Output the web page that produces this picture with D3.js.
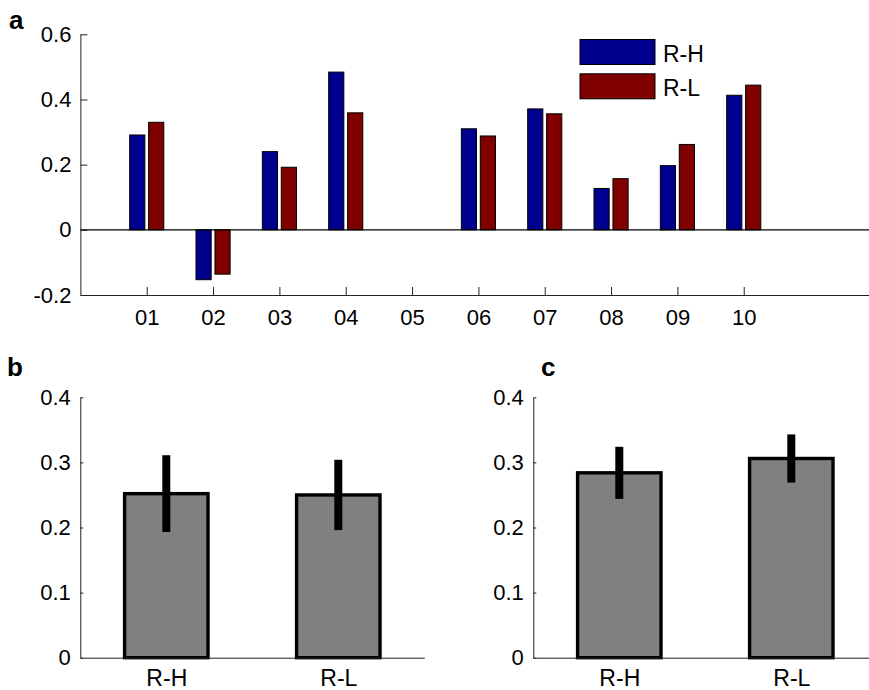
<!DOCTYPE html>
<html>
<head>
<meta charset="utf-8">
<script src="https://cdn.jsdelivr.net/npm/d3@7"></script>
<style>
  html, body { margin: 0; padding: 0; background: #fff; }
  svg { display: block; font-family: "Liberation Sans", Arial, sans-serif; }
</style>
</head>
<body>
<svg id="fig" width="869" height="690"></svg>
<script>
// Panel a: per-subject values for the two conditions
const subjects = ["01", "02", "03", "04", "05", "06", "07", "08", "09", "10"];
const seriesNames = ["R-H", "R-L"];
const valuesRH = [0.291, -0.153, 0.240, 0.484, null, 0.310, 0.371, 0.127, 0.197, 0.413];
const valuesRL = [0.330, -0.136, 0.192, 0.359, null, 0.288, 0.356, 0.157, 0.262, 0.444];
const yTicksA = [-0.2, 0, 0.2, 0.4, 0.6];

// Panels b and c: group means with error bars
const groupLabels = ["R-H", "R-L"];
const meansB = [0.252, 0.250];
const errorsB = [0.059, 0.054];
const meansC = [0.284, 0.306];
const errorsC = [0.040, 0.037];
const yTicksBC = [0, 0.1, 0.2, 0.3, 0.4];

const seriesColors = ["#00008f", "#800000"];
const svg = d3.select("#fig");
const FS = 22;
// plain hyphen for negatives, bare "0" at zero
const tickFmt = d => d === 0 ? "0" : d3.format(".1f")(d).replace("\u2212", "-");

function panelLabel(txt, x, y) {
  svg.append("text").attr("x", x).attr("y", y)
    .attr("font-size", 26).attr("font-weight", "bold").text(txt);
}

// ---------- Panel a ----------
{
  const x = d3.scaleLinear().domain([0, 12]).range([80.4, 876.4]);
  const y = d3.scaleLinear().domain([-0.2, 0.6]).range([295, 34.3]);
  const g = svg.append("g");

  const groupWidth = Math.min(0.8, 2 / (2 + 1.5));
  const barW = groupWidth / 2 * 0.8;
  const offsets = [-groupWidth / 4, groupWidth / 4];
  const series = [valuesRH, valuesRL];

  series.forEach((vals, s) => {
    g.selectAll(null)
      .data(vals.map((v, i) => ({ v, i })).filter(d => d.v !== null))
      .enter().append("rect")
      .attr("x", d => x(d.i + 1 + offsets[s] - barW / 2))
      .attr("width", x(barW) - x(0))
      .attr("y", d => y(Math.max(0, d.v)))
      .attr("height", d => Math.abs(y(d.v) - y(0)))
      .attr("fill", seriesColors[s])
      .attr("stroke", "#000").attr("stroke-width", 1);
  });

  // baseline at zero
  g.append("line").attr("x1", x(0)).attr("x2", 869)
    .attr("y1", y(0)).attr("y2", y(0))
    .attr("stroke", "#000").attr("stroke-width", 1.3);

  // axes (ticks drawn inward)
  const xAxis = d3.axisBottom(x)
    .tickValues(d3.range(1, subjects.length + 1))
    .tickFormat(d => subjects[d - 1])
    .tickSizeInner(-8).tickSizeOuter(0).tickPadding(14);
  const gx = g.append("g").attr("transform", `translate(0,${y(-0.2)})`).call(xAxis);
  gx.select(".domain").attr("stroke", "#222");
  gx.selectAll(".tick line").attr("stroke", "#222");
  gx.selectAll("text").attr("font-size", FS).attr("fill", "#000")
    .attr("font-family", "Liberation Sans, Arial, sans-serif");

  const yAxis = d3.axisLeft(y).tickValues(yTicksA)
    .tickFormat(tickFmt)
    .tickSizeInner(-7).tickSizeOuter(0).tickPadding(9);
  const gy = g.append("g").attr("transform", `translate(${x(0)},0)`).call(yAxis);
  gy.select(".domain").attr("stroke", "#222");
  gy.selectAll(".tick line").attr("stroke", "#222");
  gy.selectAll("text").attr("font-size", FS).attr("fill", "#000")
    .attr("font-family", "Liberation Sans, Arial, sans-serif");

  // legend
  const leg = g.append("g");
  seriesNames.forEach((name, s) => {
    leg.append("rect").attr("x", 580).attr("y", 39.5 + s * 34.3)
      .attr("width", 75).attr("height", 25)
      .attr("fill", seriesColors[s]).attr("stroke", "#000").attr("stroke-width", 1);
    leg.append("text").attr("x", 663).attr("y", 61.5 + s * 34.3)
      .attr("font-size", 23).text(name);
  });

  panelLabel("a", 9, 29);
}

// ---------- Panels b and c ----------
function meanPanel(x0, x1, means, errs, label, labelX) {
  const x = d3.scaleLinear().domain([0.5, 2.5]).range([x0, x1]);
  const y = d3.scaleLinear().domain([0, 0.4]).range([657.7, 397.3]);
  const g = svg.append("g");
  const bw = 0.485;

  g.selectAll(null).data(means).enter().append("rect")
    .attr("x", (d, i) => x(i + 1 - bw / 2))
    .attr("width", x(bw) - x(0))
    .attr("y", d => y(d))
    .attr("height", d => y(0) - y(d))
    .attr("fill", "#808080").attr("stroke", "#000").attr("stroke-width", 3.4);

  g.selectAll(null).data(means).enter().append("line")
    .attr("x1", (d, i) => x(i + 1)).attr("x2", (d, i) => x(i + 1))
    .attr("y1", (d, i) => y(d - errs[i])).attr("y2", (d, i) => y(d + errs[i]))
    .attr("stroke", "#000").attr("stroke-width", 8);

  const xAxis = d3.axisBottom(x).tickValues([1, 2])
    .tickFormat(d => groupLabels[d - 1])
    .tickSize(0).tickPadding(12);
  const gx = g.append("g").attr("transform", `translate(0,${y(0)})`).call(xAxis);
  gx.select(".domain").attr("stroke", "#222");
  gx.selectAll("text").attr("font-size", 23).attr("fill", "#000")
    .attr("font-family", "Liberation Sans, Arial, sans-serif");

  const yAxis = d3.axisLeft(y).tickValues(yTicksBC)
    .tickFormat(tickFmt)
    .tickSizeInner(-3).tickSizeOuter(0).tickPadding(9.5);
  const gy = g.append("g").attr("transform", `translate(${x0},0)`).call(yAxis);
  gy.select(".domain").attr("stroke", "#222");
  gy.selectAll(".tick line").attr("stroke", "#222");
  gy.selectAll("text").attr("font-size", FS).attr("fill", "#000")
    .attr("font-family", "Liberation Sans, Arial, sans-serif");

  panelLabel(label, labelX, 375.5);
}

meanPanel(80.3, 424.3, meansB, errorsB, "b", 7);
meanPanel(533.3, 877.3, meansC, errorsC, "c", 541);
</script>
</body>
</html>
